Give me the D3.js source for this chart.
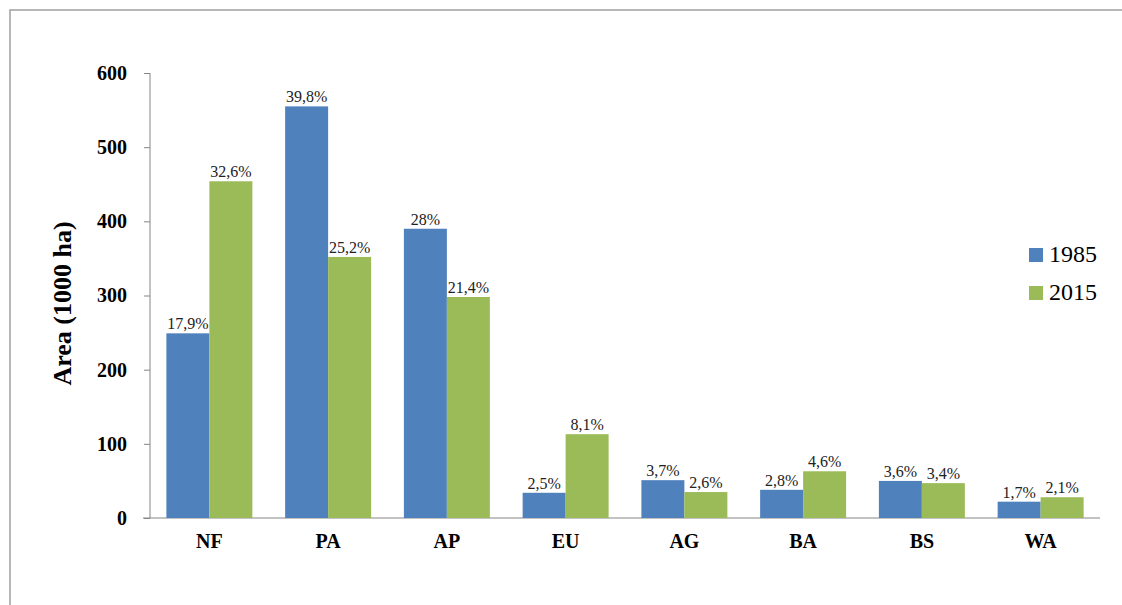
<!DOCTYPE html>
<html lang="en">
<head>
<meta charset="UTF-8">
<title>Area 1985 / 2015</title>
<style>
  body { margin: 0; background: #fff; }
  svg text { font-family: "Liberation Serif", "Times New Roman", serif; }
</style>
</head>
<body>
<div id="graph"></div>
<script src="https://cdn.jsdelivr.net/npm/d3@7/dist/d3.min.js"></script>
<script>
    // data
    var categories = ["NF", "PA", "AP", "EU", "AG", "BA", "BS", "WA"];
    var years = ["1985", "2015"];
    var values1985 = [249, 555, 390, 34, 51, 38, 50, 22];
    var values2015 = [454, 352, 298, 113, 35, 63, 47, 28];
    var pct1985 = ["17,9%", "39,8%", "28%", "2,5%", "3,7%", "2,8%", "3,6%", "1,7%"];
    var pct2015 = ["32,6%", "25,2%", "21,4%", "8,1%", "2,6%", "4,6%", "3,4%", "2,1%"];
    var yTicks = [0, 100, 200, 300, 400, 500, 600];

    var width = 1122, height = 605;
    var plotLeft = 150, plotRight = 1100, plotTop = 73, plotBottom = 518;
    var colors = { "1985": "#4f81bd", "2015": "#9bbb59" };

    var svg = d3.select("#graph").append("svg")
        .attr("width", width).attr("height", height);

    // frame (only top and left edges are visible in the picture)
    svg.append("rect")
        .attr("x", 10).attr("y", 10)
        .attr("width", width + 20).attr("height", height + 20)
        .attr("fill", "none").attr("stroke", "#a0a0a0").attr("stroke-width", 1.5);

    var x0 = d3.scaleBand()
        .domain(categories)
        .range([plotLeft, plotRight])
        .paddingInner(0.276)
        .paddingOuter(0.138);

    var x1 = d3.scaleBand()
        .domain(years)
        .range([0, x0.bandwidth()]);

    var y = d3.scaleLinear()
        .domain([0, 600])
        .range([plotBottom, plotTop]);

    // y axis
    var yAxis = svg.append("g")
        .attr("transform", "translate(" + plotLeft + ",0)")
        .call(d3.axisLeft(y).tickValues(yTicks).tickSize(6).tickPadding(17));
    yAxis.selectAll("path, line").attr("stroke", "#868686");
    yAxis.select(".domain").attr("d", "M0," + plotTop + "V" + plotBottom);
    yAxis.selectAll("text")
        .attr("font-family", "Liberation Serif")
        .attr("font-size", 20).attr("font-weight", "bold").attr("fill", "#000");

    // x axis
    var xAxis = svg.append("g")
        .attr("transform", "translate(0," + plotBottom + ")")
        .call(d3.axisBottom(x0).tickSize(0).tickPadding(16));
    xAxis.select(".domain").attr("stroke", "#868686")
        .attr("d", "M" + (plotLeft - 7) + ",0H" + plotRight);
    xAxis.selectAll("text")
        .attr("font-family", "Liberation Serif")
        .attr("font-size", 20).attr("font-weight", "bold").attr("fill", "#000");

    var rows = categories.map(function(c, i) {
        return [
            { cat: c, year: "1985", value: values1985[i], label: pct1985[i] },
            { cat: c, year: "2015", value: values2015[i], label: pct2015[i] }
        ];
    });

    var groups = svg.append("g").selectAll("g")
        .data(rows)
        .enter().append("g")
        .attr("transform", function(d) { return "translate(" + x0(d[0].cat) + ",0)"; });

    groups.selectAll("rect")
        .data(function(d) { return d; })
        .enter().append("rect")
        .attr("x", function(d) { return x1(d.year); })
        .attr("y", function(d) { return y(d.value); })
        .attr("width", x1.bandwidth())
        .attr("height", function(d) { return plotBottom - y(d.value); })
        .attr("fill", function(d) { return colors[d.year]; });

    groups.selectAll("text")
        .data(function(d) { return d; })
        .enter().append("text")
        .attr("x", function(d) { return x1(d.year) + x1.bandwidth() / 2; })
        .attr("y", function(d) { return y(d.value) - 4; })
        .attr("text-anchor", "middle")
        .attr("font-size", 16)
        .attr("fill", "#222")
        .text(function(d) { return d.label; });

    // y axis title
    svg.append("text")
        .attr("transform", "translate(71," + ((plotTop + plotBottom) / 2 + 8) + ") rotate(-90)")
        .attr("text-anchor", "middle")
        .attr("font-size", 26).attr("font-weight", "bold")
        .text("Area (1000 ha)");

    // legend
    var legend = svg.append("g").selectAll("g")
        .data(years)
        .enter().append("g")
        .attr("transform", function(d, i) { return "translate(1029," + (248 + i * 38) + ")"; });
    legend.append("rect")
        .attr("width", 14).attr("height", 14)
        .attr("fill", function(d) { return colors[d]; });
    legend.append("text")
        .attr("x", 20).attr("y", 14)
        .attr("font-size", 24)
        .text(function(d) { return d; });
</script>
</body>
</html>
